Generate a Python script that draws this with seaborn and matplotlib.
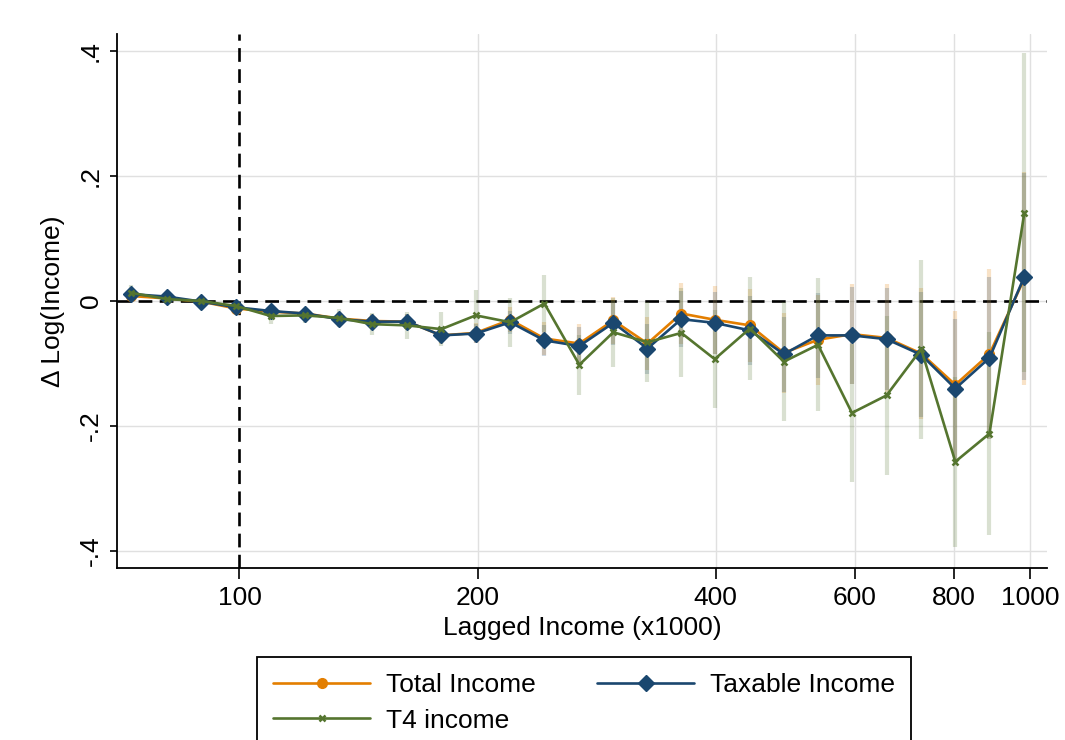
import numpy as np
import pandas as pd
import matplotlib
matplotlib.use("Agg")
import matplotlib.pyplot as plt
from matplotlib.ticker import FixedLocator, FixedFormatter, NullLocator
import seaborn as sns

# Bin midpoints of lagged income (thousands)
lagged_income = [73, 81, 89.5, 99, 109.5, 121, 133.5, 147, 163, 180, 199, 220, 243, 269,
                 297, 328, 362, 399, 442, 488, 539, 595, 658, 728, 804, 888, 983]

# Mean change in log income per bin
total_income = [0.008, 0.004, -0.001, -0.012, -0.017, -0.020, -0.028, -0.032, -0.033, -0.055,
                -0.051, -0.030, -0.060, -0.068, -0.031, -0.068, -0.020, -0.030, -0.039, -0.083,
                -0.062, -0.053, -0.059, -0.084, -0.134, -0.085, 0.036]
taxable_income = [0.011, 0.007, -0.001, -0.010, -0.016, -0.020, -0.029, -0.033, -0.033, -0.055,
                  -0.052, -0.034, -0.063, -0.072, -0.035, -0.076, -0.029, -0.035, -0.047, -0.085,
                  -0.055, -0.055, -0.061, -0.086, -0.140, -0.091, 0.039]
t4_income = [0.013, 0.003, 0.000, -0.008, -0.024, -0.023, -0.027, -0.037, -0.039, -0.045,
             -0.023, -0.034, -0.004, -0.102, -0.050, -0.066, -0.051, -0.093, -0.044, -0.097,
             -0.070, -0.179, -0.151, -0.077, -0.257, -0.212, 0.141]

# 95% confidence interval half-widths
total_ci = [0.007, 0.007, 0.007, 0.007, 0.009, 0.009, 0.010, 0.011, 0.013, 0.013,
            0.016, 0.020, 0.027, 0.032, 0.038, 0.043, 0.048, 0.054, 0.058, 0.064,
            0.072, 0.080, 0.086, 0.105, 0.118, 0.136, 0.170]
taxable_ci = [0.006, 0.006, 0.006, 0.006, 0.008, 0.008, 0.009, 0.010, 0.012, 0.012,
              0.015, 0.018, 0.025, 0.030, 0.035, 0.040, 0.045, 0.050, 0.055, 0.060,
              0.068, 0.077, 0.082, 0.100, 0.112, 0.130, 0.165]
t4_ci = [0.012, 0.008, 0.008, 0.010, 0.012, 0.012, 0.015, 0.018, 0.022, 0.027,
         0.040, 0.039, 0.046, 0.048, 0.055, 0.064, 0.071, 0.078, 0.083, 0.095,
         0.106, 0.110, 0.127, 0.143, 0.136, 0.163, 0.255]

x_ticks = [100, 200, 400, 600, 800, 1000]
x_tick_labels = ["100", "200", "400", "600", "800", "1000"]
y_ticks = [-0.4, -0.2, 0.0, 0.2, 0.4]
y_tick_labels = ["-.4", "-.2", "0", ".2", ".4"]

series_names = ["Total Income", "Taxable Income", "T4 income"]
series_values = [total_income, taxable_income, t4_income]
series_ci = [total_ci, taxable_ci, t4_ci]
series_colors = ["#E37E00", "#1A476F", "#55752F"]
series_markers = ["o", "D", "x"]
series_msize = [7.0, 8.0, 4.5]
series_mew = [1.0, 1.0, 1.8]

sns.set_theme(style="white")
plt.rcParams["font.family"] = ["Liberation Sans", "DejaVu Sans"]
plt.rcParams["text.color"] = "black"
plt.rcParams["axes.labelcolor"] = "black"
plt.rcParams["xtick.color"] = "black"
plt.rcParams["ytick.color"] = "black"

fig = plt.figure(figsize=(10.65, 7.40), dpi=100)
ax = fig.add_axes([117 / 1065, 1 - 568 / 740, (1047 - 117) / 1065, (568 - 34) / 740])

ax.set_xscale("log")
ax.set_xlim(70, 1050)
ax.set_ylim(-0.427, 0.427)

# grid lines
for yt in y_ticks:
    ax.axhline(yt, color="#e0e0e0", lw=1.0, zorder=0)
for xt in x_ticks[1:]:
    ax.axvline(xt, color="#e0e0e0", lw=1.0, zorder=0)

# reference lines
ax.axhline(0, color="black", lw=1.9, linestyle=(0, (5.2, 2.8)), zorder=1)
ax.axvline(100, color="black", lw=1.9, linestyle=(0, (5.2, 2.8)), zorder=1)

handles = {}
for name, vals, ci, col in zip(series_names, series_values, series_ci, series_colors):
    df = pd.DataFrame({"x": lagged_income, "y": vals, "ci": ci})
    ax.vlines(df["x"], df["y"] - df["ci"], df["y"] + df["ci"], color=col,
              alpha=0.22, lw=3.0, zorder=2)
for name, vals, col, mk, ms, mew in zip(series_names, series_values, series_colors,
                                        series_markers, series_msize, series_mew):
    df = pd.DataFrame({"x": lagged_income, "y": vals})
    sns.lineplot(data=df, x="x", y="y", ax=ax, color=col, marker=mk, markersize=ms,
                 markeredgewidth=mew, markeredgecolor=col, lw=1.9, label=name,
                 zorder=3, legend=False, estimator=None, sort=False)
    handles[name] = ax.get_lines()[-1]

ax.xaxis.set_major_locator(FixedLocator(x_ticks))
ax.xaxis.set_major_formatter(FixedFormatter(x_tick_labels))
ax.xaxis.set_minor_locator(NullLocator())
ax.yaxis.set_major_locator(FixedLocator(y_ticks))
ax.yaxis.set_major_formatter(FixedFormatter(y_tick_labels))

ax.tick_params(axis="x", which="major", direction="out", length=8, width=1.2,
               labelsize=19, pad=5, bottom=True)
ax.tick_params(axis="y", which="major", direction="out", length=5, width=1.2,
               labelsize=19, pad=5, left=True)
for lab in ax.get_yticklabels():
    lab.set_rotation(90)
    lab.set_va("center")

for side in ["top", "right"]:
    ax.spines[side].set_visible(False)
for side in ["left", "bottom"]:
    ax.spines[side].set_color("black")
    ax.spines[side].set_linewidth(1.3)

ax.set_xlabel("Lagged Income (x1000)", fontsize=19, labelpad=4)
ax.set_ylabel("\u0394 Log(Income)", fontsize=19, labelpad=10)

order = ["Total Income", "T4 income", "Taxable Income"]
leg = fig.legend([handles[n] for n in order], order, ncol=2, loc="upper left",
                 bbox_to_anchor=(257 / 1065, 1 - 657 / 740), fontsize=19,
                 frameon=True, fancybox=False, edgecolor="black", framealpha=1,
                 handlelength=3.7, handletextpad=0.6, columnspacing=2.3,
                 labelspacing=0.45, borderpad=0.6, borderaxespad=0)
leg.get_frame().set_linewidth(1.3)

fig.savefig("out.png", dpi=100)
